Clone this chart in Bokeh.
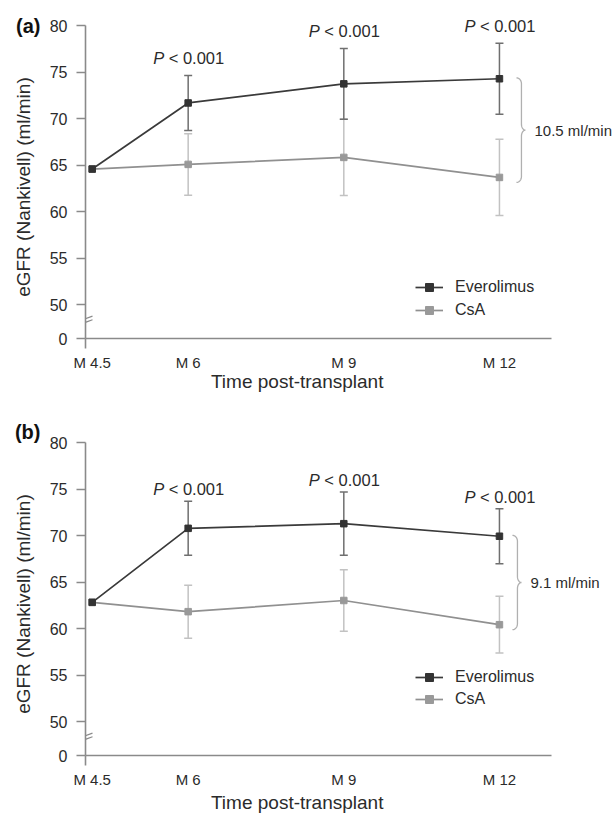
import numpy as np
from bokeh.plotting import figure
from bokeh.models import (ColumnDataSource, FixedTicker, Range1d, Whisker, TeeHead,
                          Legend, LegendItem, Arrow, LinearAxis)
from bokeh.layouts import column
from bokeh.core.properties import value
from bokeh.embed import file_html
from bokeh.resources import INLINE

# ---------------- data ----------------
time_labels = ["M 4.5", "M 6", "M 9", "M 12"]
time_pos = [4.15, 6, 9, 12]            # M 4.5 sits closer to M 6 on the original axis
y_tick_values = [50, 55, 60, 65, 70, 75, 80]
zero_label = "0"
p_value_text = "< 0.001"
series_names = ["Everolimus", "CsA"]

evl_a = [64.6, 71.7, 73.75, 74.3]
evl_a_err = [0.0, 2.95, 3.8, 3.8]
csa_a = [64.6, 65.1, 65.85, 63.7]
csa_a_err = [0.0, 3.3, 4.1, 4.1]
diff_a = "10.5 ml/min"

evl_b = [62.85, 70.8, 71.3, 69.95]
evl_b_err = [0.0, 2.9, 3.4, 2.95]
csa_b = [62.85, 61.85, 63.05, 60.45]
csa_b_err = [0.0, 2.85, 3.3, 3.05]
diff_b = "9.1 ml/min"

# ---------------- styling / layout ----------------
FONT = value("Liberation Sans")
FONT_NAME = "Liberation Sans"
TXT = "#2b2b2b"
AXIS = "#8a8a8a"
EVL_LINE, EVL_MARK, EVL_ERR = "#3a3a3a", "#333333", "#6f6f6f"
CSA_LINE, CSA_MARK, CSA_ERR = "#909090", "#999999", "#c2c2c2"
BRACE = "#b0b0b0"

PX_X = 51.88      # px per x unit
PX_Y = 9.31       # px per y unit
FRAME_W, FRAME_H = 529, 324
X0 = 4.021        # left edge of frame (y axis position)
Y0 = 46.4         # position where the broken axis shows 0
X_AXIS_END = 13.0


def brace_path(xc, y_top, y_bot):
    hook, tip, r = 5 / PX_X, 4 / PX_X, 6 / PX_Y
    ym = (y_top + y_bot) / 2
    t = np.linspace(0, np.pi / 2, 14)
    xs = list(xc - hook + hook * np.sin(t)); ys = list(y_top - r + r * np.cos(t))
    xs += list(xc + tip - tip * np.cos(t)); ys += list(ym + r - r * np.sin(t))
    xs += list(xc + tip - tip * np.sin(t)); ys += list(ym - r + r * np.cos(t))
    xs += list(xc - hook + hook * np.cos(t)); ys += list(y_bot + r - r * np.sin(t))
    return xs, ys, ym


def panel(tag, evl, evl_err, csa, csa_err, diff, fig_h, border_bottom, p_gap,
          leg_y, leg_spacing, brace_gap, tag_y, tick_standoff, title_standoff):
    p = figure(width=614, height=fig_h, output_backend="svg", toolbar_location=None,
               x_range=Range1d(X0, X0 + FRAME_W / PX_X),
               y_range=Range1d(Y0, Y0 + FRAME_H / PX_Y),
               min_border_left=85, min_border_right=0, min_border_top=14,
               min_border_bottom=border_bottom)
    p.outline_line_color = None
    p.grid.visible = False
    p.background_fill_color = "white"
    p.border_fill_color = "white"

    # y axis (broken)
    ya = p.yaxis[0]
    ya.ticker = FixedTicker(ticks=[Y0] + y_tick_values)
    ya.major_label_overrides = {Y0: zero_label}
    ya.bounds = (Y0, max(y_tick_values))
    ya.major_tick_out = 9
    ya.major_tick_in = 0
    ya.minor_tick_out = 0
    ya.axis_line_color = AXIS
    ya.axis_line_width = 1.6
    ya.major_tick_line_color = AXIS
    ya.major_tick_line_width = 1.6
    ya.major_label_standoff = 9
    ya.major_label_text_font = FONT_NAME
    ya.major_label_text_font_size = "16px"
    ya.major_label_text_color = TXT
    ya.axis_label = "eGFR (Nankivell) (ml/min)" + "\u00a0" * 4
    ya.axis_label_text_font = FONT_NAME
    ya.axis_label_text_font_size = "19px"
    ya.axis_label_text_font_style = "normal"
    ya.axis_label_text_color = TXT
    ya.axis_label_standoff = 13

    # x axis
    xa = p.xaxis[0]
    xa.ticker = FixedTicker(ticks=time_pos, minor_ticks=[X0 + 0.002])
    xa.major_label_overrides = {pos: lab for pos, lab in zip(time_pos, time_labels)}
    xa.bounds = (X0, X_AXIS_END)
    xa.major_tick_out = 0
    xa.major_tick_in = 0
    xa.minor_tick_out = 10
    xa.minor_tick_in = 0
    xa.minor_tick_line_color = AXIS
    xa.minor_tick_line_width = 1.6
    xa.axis_line_color = AXIS
    xa.axis_line_width = 1.6
    xa.major_label_standoff = tick_standoff
    xa.major_label_text_font = FONT_NAME
    xa.major_label_text_font_size = "15px"
    xa.major_label_text_color = TXT
    xa.axis_label = "Time post-transplant" + "\u00a0" * 20
    xa.axis_label_text_font = FONT_NAME
    xa.axis_label_text_font_size = "19px"
    xa.axis_label_text_font_style = "normal"
    xa.axis_label_text_color = TXT
    xa.axis_label_standoff = title_standoff

    # panel tag, carried by an extra left axis with a single labelled tick
    ta = LinearAxis(ticker=FixedTicker(ticks=[tag_y]), major_label_overrides={tag_y: tag})
    ta.axis_line_color = None
    ta.major_tick_line_color = None
    ta.minor_tick_line_color = None
    ta.major_tick_out = 0
    ta.major_tick_in = 0
    ta.major_label_standoff = -31
    ta.major_label_text_font = FONT_NAME
    ta.major_label_text_font_size = "20px"
    ta.major_label_text_font_style = "bold"
    ta.major_label_text_color = "#111111"
    p.add_layout(ta, "left")

    # error bars
    for vals, errs, col in ((csa, csa_err, CSA_ERR), (evl, evl_err, EVL_ERR)):
        src = ColumnDataSource(dict(
            x=time_pos[1:],
            upper=[v + e for v, e in zip(vals[1:], errs[1:])],
            lower=[v - e for v, e in zip(vals[1:], errs[1:])]))
        w = Whisker(base="x", upper="upper", lower="lower", source=src,
                    line_color=col, line_width=1.5,
                    upper_head=TeeHead(size=8, line_color=col, line_width=1.5),
                    lower_head=TeeHead(size=8, line_color=col, line_width=1.5))
        w.level = "underlay"
        p.add_layout(w)

    # series
    lc = p.line(time_pos, csa, line_color=CSA_LINE, line_width=1.7)
    sc = p.scatter(time_pos, csa, marker="square", size=6.5, fill_color=CSA_MARK, line_color=CSA_MARK)
    le = p.line(time_pos, evl, line_color=EVL_LINE, line_width=1.7)
    se = p.scatter(time_pos, evl, marker="square", size=6.5, fill_color=EVL_MARK, line_color=EVL_MARK)

    # P-value labels above Everolimus error bars
    tops = [v + e for v, e in zip(evl[1:], evl_err[1:])]
    p.text(x=time_pos[1:], y=tops, text=["P"] * 3, x_offset=-35, y_offset=-p_gap,
           text_font=FONT, text_font_size="16.5px", text_font_style="italic",
           text_color=TXT, text_align="left", text_baseline="middle")
    p.text(x=time_pos[1:], y=tops, text=[p_value_text] * 3, x_offset=-19.5, y_offset=-p_gap,
           text_font=FONT, text_font_size="16.5px",
           text_color=TXT, text_align="left", text_baseline="middle")

    # brace showing difference at M12
    xc = time_pos[-1] + brace_gap / PX_X
    bx, by, ym = brace_path(xc, evl[-1] + 0.1, csa[-1] - 5 / PX_Y)
    p.line(bx, by, line_color=BRACE, line_width=1.3)
    p.text(x=[xc], y=[ym], text=[diff], x_offset=13, text_font=FONT, text_font_size="15px",
           text_color=TXT, text_align="left", text_baseline="middle")

    # axis break marks
    yb = Y0 + 18 / PX_Y
    for d in (-1.8, 1.8):
        p.add_layout(Arrow(end=None, x_start=X0 - 7 / PX_X, y_start=yb + (d - 2.6) / PX_Y,
                           x_end=X0 + 7 / PX_X, y_end=yb + (d + 2.6) / PX_Y,
                           line_color=AXIS, line_width=1.2))

    # legend
    leg = Legend(items=[LegendItem(label=series_names[0], renderers=[le, se]),
                        LegendItem(label=series_names[1], renderers=[lc, sc])],
                 location=(330, leg_y), orientation="vertical")
    leg.glyph_width = 28
    leg.glyph_height = 20
    leg.label_height = 20
    leg.label_standoff = 12
    leg.spacing = leg_spacing
    leg.padding = 0
    leg.margin = 0
    leg.border_line_color = None
    leg.background_fill_alpha = 0
    leg.label_text_font = FONT_NAME
    leg.label_text_font_size = "16px"
    leg.label_text_color = TXT
    p.add_layout(leg)
    return p


pa = panel("(a)", evl_a, evl_a_err, csa_a, csa_a_err, diff_a, fig_h=417, border_bottom=79,
           p_gap=17, leg_y=18, leg_spacing=3, brace_gap=22, tag_y=80.0,
           tick_standoff=5, title_standoff=-3)
pb = panel("(b)", evl_b, evl_b_err, csa_b, csa_b_err, diff_b, fig_h=400, border_bottom=62,
           p_gap=12, leg_y=46, leg_spacing=2, brace_gap=18, tag_y=81.15,
           tick_standoff=5, title_standoff=1)

layout = column(pa, pb)
open("out.html", "w").write(file_html(layout, INLINE))
